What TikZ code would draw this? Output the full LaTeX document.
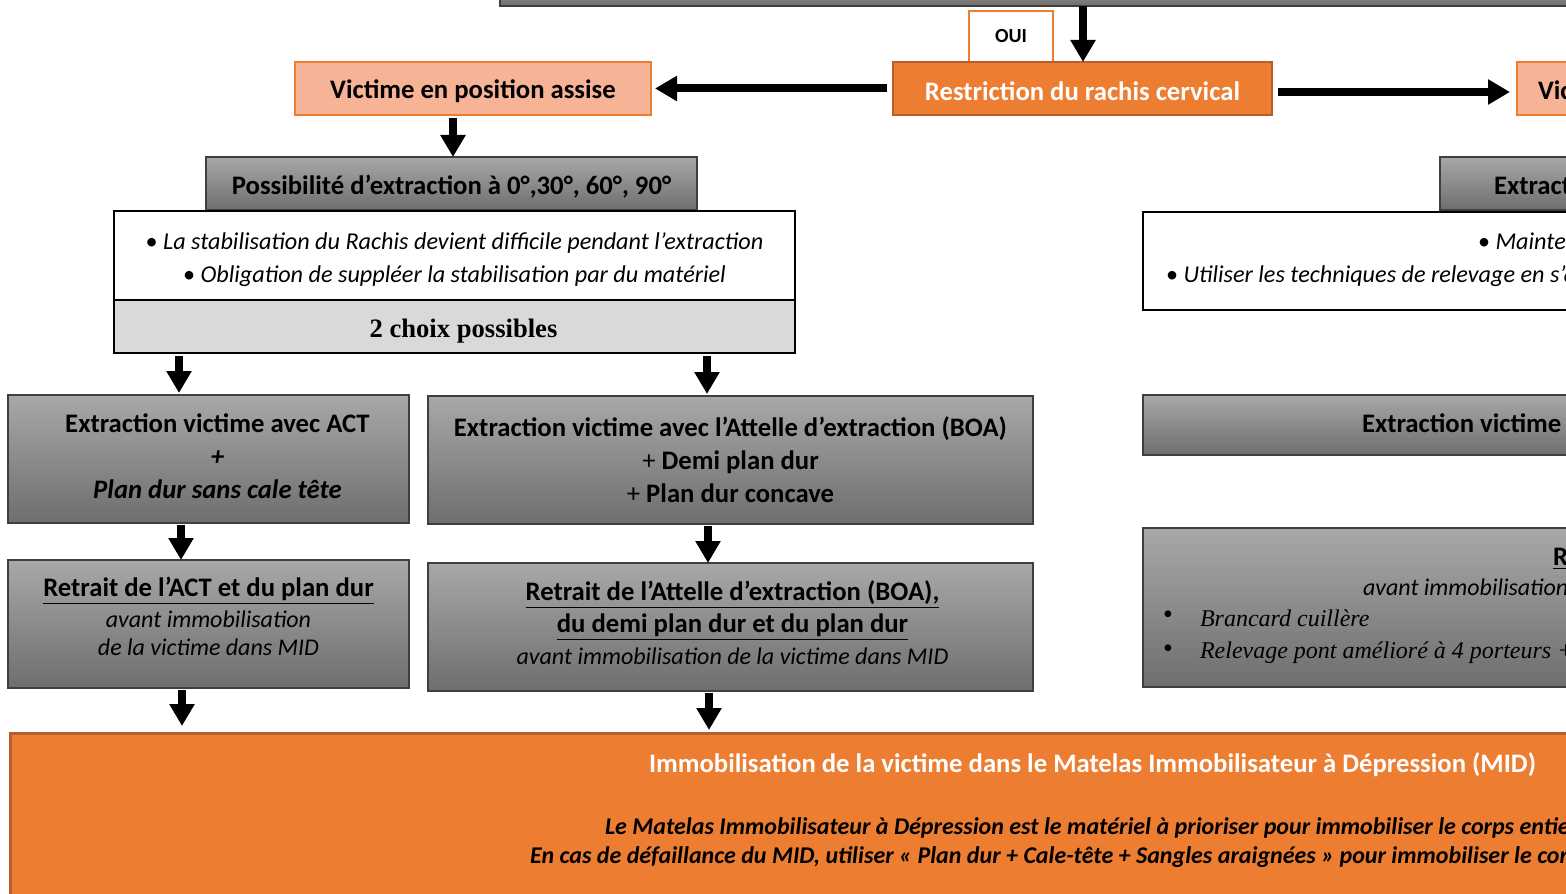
\documentclass[tikz,border=0pt]{standalone}
\usepackage{fontspec}
\setmainfont{Carlito}
\newfontfamily\serifbody{Liberation Serif}
\usetikzlibrary{arrows.meta}

\definecolor{orangefill}{HTML}{ED7D31}
\definecolor{orangeline}{HTML}{B85E2A}
\definecolor{salmon}{HTML}{F6B396}
\definecolor{graytop}{HTML}{A8A8A8}
\definecolor{graybot}{HTML}{6E6E6E}
\definecolor{grayline}{HTML}{3F3F3F}
\definecolor{choixgray}{HTML}{D9D9D9}

\newcommand\headfont{\bfseries\fontsize{13.35}{16.5}\selectfont}
\newcommand\noteitfont{\itshape\fontsize{12.1}{16.5}\selectfont}
\newcommand\smallit{\mdseries\itshape\fontsize{12}{14}\selectfont}
\newcommand\midnotefont{\bfseries\itshape\fontsize{12}{14}\selectfont}

\begin{document}
\begin{tikzpicture}[x=0.5pt,y=-0.5pt,
  every node/.style={inner sep=0pt, outer sep=0pt},
  graybox/.style={draw=grayline, line width=0.6pt, top color=graytop, bottom color=graybot},
  orangebox/.style={draw=orangeline, line width=1.2pt, fill=orangefill},
  salmonbox/.style={draw=orangefill, line width=0.6pt, fill=salmon},
  textbox/.style={draw=black, line width=1.1pt, fill=white},
  lbl/.style={align=center, font=\headfont},
  arr/.style={line width=4pt, -{Triangle[width=12pt,length=11pt]}},
]
\useasboundingbox (0,0) rectangle (1566,893);
\clip (0,0) rectangle (1566,893);

% question bar above the decision
\node[graybox, minimum width=540pt, minimum height=13pt] (topbar) at (1040,-7) {};

% decision
\node[draw=orangefill, line width=0.9pt, fill=white, minimum width=42pt, minimum height=25.5pt,
      font=\bfseries\fontsize{10}{11}\selectfont] (oui) at (1011,36.5) {OUI};
\node[orangebox, minimum width=189.5pt, minimum height=26.5pt] (restr) at (1082.5,88.5) {};
\node[lbl, text=white] (restrt) at ([yshift=-1.5pt]restr.center) {Restriction du rachis cervical};

% seated victim branch
\node[salmonbox, minimum width=178pt, minimum height=26.5pt] (vic) at (473,88.5) {};
\node[lbl] (vict) at ([yshift=-1.5pt]vic.center) {Victime en position assise};
\node[graybox, minimum width=245.5pt, minimum height=26.5pt] (poss) at (451.5,183.5) {};
\node[lbl] (posst) at ([yshift=-1.5pt]poss.center) {Possibilité d’extraction à 0°,30°, 60°, 90°};
\node[textbox, minimum width=340.5pt, minimum height=44.5pt] (info) at (454.5,255.5) {};
\node[align=center, font=\noteitfont] (infot) at ([yshift=-2pt]info.center)
  {\textup{•} La stabilisation du Rachis devient difficile pendant l’extraction\\
   \textup{•} Obligation de suppléer la stabilisation par du matériel};
\node[textbox, fill=choixgray, minimum width=340.5pt, minimum height=26.5pt] (choix) at (454.5,326.5) {};
\node[font=\serifbody\bfseries\fontsize{13.3}{15}\selectfont] (choixt) at ([xshift=4.5pt,yshift=-2.5pt]choix.center)
  {2 choix possibles};

\node[graybox, minimum width=200.5pt, minimum height=64pt] (a1) at (208.5,459) {};
\node[lbl] (a1t) at ([xshift=4.5pt,yshift=1.5pt]a1.center)
  {Extraction victime avec ACT\\ \textit{+}\\ \textit{Plan dur sans cale tête}};
\node[graybox, minimum width=302.5pt, minimum height=64pt] (b1) at (730.5,460) {};
\node[lbl] (b1t) at (b1.center)
  {Extraction victime avec l’Attelle d’extraction (BOA)\\ {\mdseries +} Demi plan dur\\ {\mdseries +} Plan dur concave};

\node[graybox, minimum width=200.5pt, minimum height=64pt] (a2) at (208.5,624) {};
\node[lbl] (a2t) at ([yshift=4pt]a2.center)
  {\underline{Retrait de l’ACT et du plan dur}\\[-1pt]
   {\smallit avant immobilisation}\\[-2.5pt]
   {\smallit de la victime dans MID}};
\node[graybox, minimum width=302.5pt, minimum height=64pt] (b2) at (730.5,627) {};
\node[lbl] (b2t) at ([xshift=1pt,yshift=2.25pt]b2.center)
  {\underline{Retrait de l’Attelle d’extraction (BOA),}\\[-0.5pt]
   \underline{du demi plan dur et du plan dur}\\[-0.5pt]
   {\smallit avant immobilisation de la victime dans MID}};

% lying victim branch
\node[salmonbox, anchor=west, minimum width=60pt, minimum height=26.5pt] (vic2) at (1517,88.5) {};
\node[anchor=west, font=\headfont] (vic2t) at (1538,92) {Victime en position allongée};
\node[graybox, anchor=north west, minimum width=100pt, minimum height=26.5pt] (ext2) at (1440,157) {};
\node[anchor=west, font=\headfont] (ext2t) at (1494,185) {Extraction};
\node[textbox, anchor=north west, minimum width=250pt, minimum height=49pt] (info2) at (1143,212) {};
\node[anchor=west, font=\noteitfont] (info2a) at (1478,241) {\textup{•} Maintenir};
\node[anchor=west, font=\noteitfont] (info2b) at (1166,276) {\textup{•} Utiliser les techniques de relevage en s’adaptant};
\node[graybox, anchor=north west, minimum width=250pt, minimum height=30pt] (c1) at (1143,395) {};
\node[anchor=west, font=\headfont] (c1t) at (1362,425) {Extraction victime allongée};
\node[graybox, anchor=north west, minimum width=250pt, minimum height=79.5pt] (c2) at (1143,528) {};
\node[anchor=west, font=\headfont] (c2t) at (1553,558) {\underline{Retrait}};
\node[anchor=west, font=\itshape\fontsize{12}{14}\selectfont] (c2a) at (1363,587) {avant immobilisation de la victime};
\node[anchor=west, font=\serifbody\fontsize{14}{14}\selectfont] (c2b1) at (1163,617) {•};
\node[anchor=west, font=\serifbody\itshape\fontsize{12}{14}\selectfont] (c2b) at (1200,618) {Brancard cuillère};
\node[anchor=west, font=\serifbody\fontsize{14}{14}\selectfont] (c2c1) at (1163,651) {•};
\node[anchor=west, font=\serifbody\itshape\fontsize{12}{14}\selectfont] (c2c) at (1200,653) {Relevage pont amélioré à 4 porteurs + plan dur};

% final immobilisation
\node[draw=orangeline, line width=1.5pt, fill=orangefill, anchor=north west,
      minimum width=805pt, minimum height=98.5pt] (mid) at (10,733) {};
\node[anchor=west, text=white, font=\headfont] (midt) at (649,765)
  {Immobilisation de la victime dans le Matelas Immobilisateur à Dépression (MID)};
\node[anchor=west, font=\midnotefont] (midn1) at (605,828)
  {Le Matelas Immobilisateur à Dépression est le matériel à prioriser pour immobiliser le corps entier};
\node[anchor=west, font=\midnotefont] (midn2) at (530,857)
  {En cas de défaillance du MID, utiliser « Plan dur + Cale-tête + Sangles araignées » pour immobiliser le corps entier};

% connectors
\draw[arr] (topbar.south -| 1083,0) -- (restr.north -| 1083,0);
\draw[arr, shorten <=3pt, shorten >=2pt] (restr.west) -- (vic.east);
\draw[arr, shorten <=3pt, shorten >=3.5pt] ([yshift=-1.75pt]restr.east) -- ([yshift=-1.75pt]vic2.west);
\draw[arr, shorten <=1.5pt] (vic.south -| 453,0) -- (poss.north -| 453,0);
\draw[arr, shorten <=1.5pt, shorten >=1pt] (choix.south -| 179,0) -- (a1.north -| 179,0);
\draw[arr, shorten <=1.5pt, shorten >=1pt] (choix.south -| 707,0) -- (b1.north -| 707,0);
\draw[arr, shorten <=1pt] (a1.south -| 181,0) -- (a2.north -| 181,0);
\draw[arr, shorten <=1pt] (b1.south -| 708,0) -- (b2.north -| 708,0);
\draw[arr, shorten <=1pt, shorten >=3.5pt] (a2.south -| 182,0) -- (mid.north -| 182,0);
\draw[arr, shorten <=1pt, shorten >=1.5pt] (b2.south -| 709,0) -- (mid.north -| 709,0);
\end{tikzpicture}
\end{document}
